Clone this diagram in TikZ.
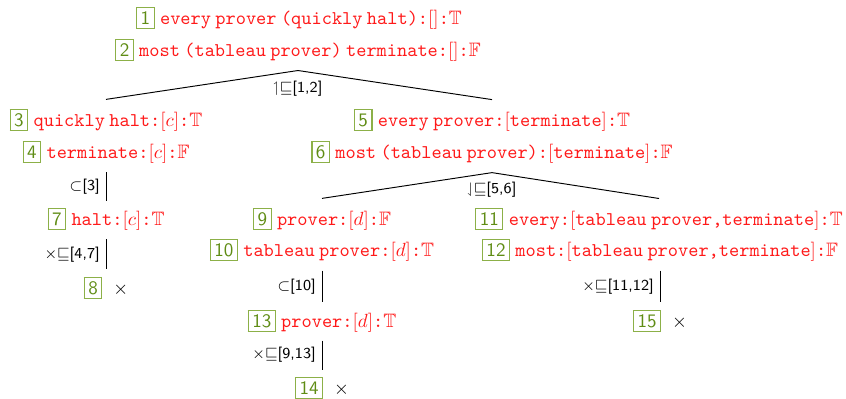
\documentclass[tikz,border=0pt]{standalone}
\usepackage{amssymb}
\usetikzlibrary{calc}
\definecolor{fred}{RGB}{255,25,25}
\definecolor{boxframe}{RGB}{140,176,72}
\definecolor{boxnum}{RGB}{95,140,20}
% numbered green box in front of each tableau line
\newcommand{\nb}[1]{{\fboxsep=1.8pt\fboxrule=0.6pt\fcolorbox{boxframe}{white}{\color{boxnum}\sffamily #1}}\hspace{2.8pt}}
% narrow word space inside the typewriter formulas
\newcommand{\ws}{\hskip2.3pt}
% formula : [arguments] : sign
\newcommand{\fml}[3]{\textcolor{fred}{\fontsize{10.2}{12}\selectfont\ttfamily #1:$[$#2$]$:$\mathbb{#3}$}}
\newcommand{\closed}{\hspace{3pt}$\times$}
\newcommand{\xsq}{$\mathord{\times}\mathord{\sqsubseteq}$}
\begin{document}
\begin{tikzpicture}[x=0.525pt,y=-0.525pt,
  entry/.style={inner sep=0pt,anchor=center},
  rulelbl/.style={font=\sffamily\footnotesize,inner sep=3pt},
  edge/.style={line width=0.5pt}]
\useasboundingbox (0,0) rectangle (846,398);

% root
\node[entry] (n1) at (299,18) {\nb{1}\fml{every\ws prover\ws(quickly\ws halt)}{}{T}};
\node[entry] (n2) at (298,50) {\nb{2}\fml{most\ws(tableau\ws prover)\ws terminate}{}{F}};

% left branch
\node[entry] (n3) at (106,120) {\nb{3}\fml{quickly\ws halt}{$c$}{T}};
\node[entry] (n4) at (106,152) {\nb{4}\fml{terminate}{$c$}{F}};
\node[entry] (n7) at (106,219) {\nb{7}\fml{halt}{$c$}{T}};
\node[entry] (n8) at (106,288) {\nb{8}\closed};

% right branch
\node[entry] (n5) at (492,120) {\nb{5}\fml{every\ws prover}{terminate}{T}};
\node[entry] (n6) at (492,152) {\nb{6}\fml{most\ws(tableau\ws prover)}{terminate}{F}};

\node[entry] (n9)  at (322,219) {\nb{9}\fml{prover}{$d$}{F}};
\node[entry] (n10) at (322,250) {\nb{10}\fml{tableau\ws prover}{$d$}{T}};
\node[entry] (n13) at (322,321) {\nb{13}\fml{prover}{$d$}{T}};
\node[entry] (n14) at (322,388) {\nb{14}\closed};

\node[entry] (n11) at (659,219) {\nb{11}\fml{every}{tableau\ws prover,terminate}{T}};
\node[entry] (n12) at (660,250) {\nb{12}\fml{most}{tableau\ws prover,terminate}{F}};
\node[entry] (n15) at (660,321) {\nb{15}\closed};

% branchings
\coordinate (a1) at ($(n2.south)+(0,9)$);
\coordinate (l1) at ($(n3.north)+(0,-9)$);
\coordinate (r1) at ($(n5.north)+(0,-9)$);
\draw[edge] (l1) -- (a1) -- (r1);
\node[rulelbl] (lab1) at ($(a1)+(0,18)$) {$\mathord{\upharpoonleft}\mathord{\sqsubseteq}$[1,2]};

\coordinate (a2) at ($(n6.south)+(0,9)$);
\coordinate (l2) at ($(n9.north)+(0,-9)$);
\coordinate (r2) at ($(n11.north)+(0,-9)$);
\draw[edge] (l2) -- (a2) -- (r2);
\node[rulelbl] (lab2) at ($(a2)+(0,17)$) {$\mathord{\downharpoonleft}\mathord{\sqsubseteq}$[5,6]};

% linear steps
\draw[edge] ($(n4.south)+(0,9)$) -- node[rulelbl,left] (lab3) {$\subset$[3]} ($(n7.north)+(0,-7)$);
\draw[edge] ($(n7.south)+(0,9)$) -- node[rulelbl,left] (lab4) {\xsq[4,7]} ($(n8.north)+(0,-7)$);
\draw[edge] ($(n10.south)+(0,9)$) -- node[rulelbl,left] (lab5) {$\subset$[10]} ($(n13.north)+(0,-7)$);
\draw[edge] ($(n13.south)+(0,8)$) -- node[rulelbl,left] (lab6) {\xsq[9,13]} ($(n14.north)+(0,-7)$);
\draw[edge] ($(n12.south)+(0,9)$) -- node[rulelbl,left] (lab7) {\xsq[11,12]} ($(n15.north)+(0,-7)$);
\end{tikzpicture}
\end{document}
